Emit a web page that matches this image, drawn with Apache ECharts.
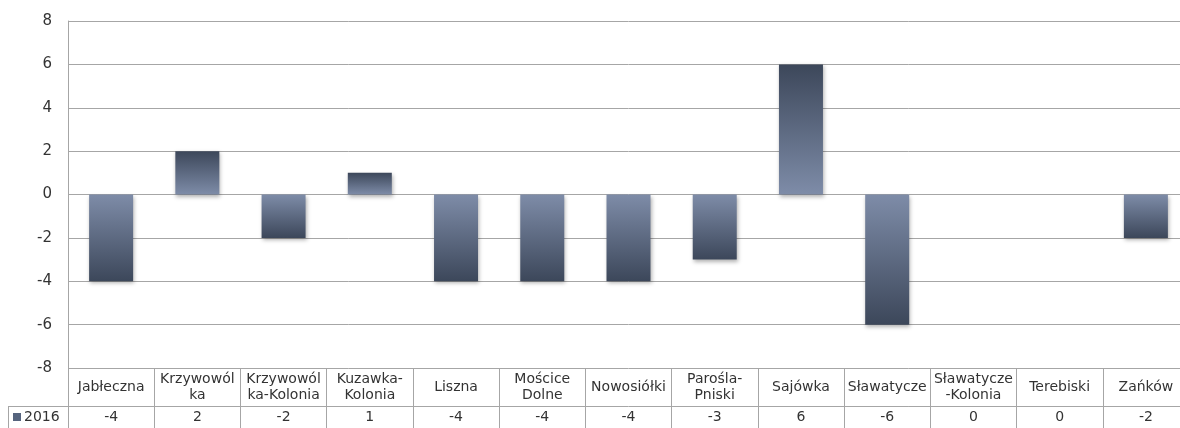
<!DOCTYPE html>
<html>
<head>
<meta charset="utf-8">
<script src="https://cdn.jsdelivr.net/npm/echarts@6/dist/echarts.min.js"></script>
<style>html,body{margin:0;padding:0;background:#fff;overflow:hidden;width:1180px;height:428px}#c{width:1189px;height:428px}</style>
</head>
<body>
<div id="c"></div>
<script>
var categories = ["Jabłeczna", "Krzywowól\nka", "Krzywowól\nka-Kolonia", "Kuzawka-\nKolonia", "Liszna", "Mościce\nDolne", "Nowosiółki", "Parośla-\nPniski", "Sajówka", "Sławatycze", "Sławatycze\n-Kolonia", "Terebiski", "Zańków"];
var values2016 = [-4, 2, -2, 1, -4, -4, -4, -3, 6, -6, 0, 0, -2];
var seriesName = "2016";
var yTicks = { min: -8, max: 8, interval: 2 };

var dark = '#3c475a', light = '#7e8ca8';
var gradUp = new echarts.graphic.LinearGradient(0, 0, 0, 1, [{offset: 0, color: dark}, {offset: 1, color: light}]);
var gradDown = new echarts.graphic.LinearGradient(0, 0, 0, 1, [{offset: 0, color: light}, {offset: 1, color: dark}]);
var lineCol = '#a6a6a6';
var txt = '#333333';
var font = 'DejaVu Sans';

var chart = echarts.init(document.getElementById('c'));
chart.setOption({
  animation: false,
  grid: { left: 68, top: 21, right: 0, height: 347 },
  legend: {
    left: 13, top: 410, itemWidth: 8, itemHeight: 8, itemGap: 4, padding: 0,
    icon: 'rect',
    data: [{ name: seriesName, itemStyle: { color: '#56647e' } }],
    textStyle: { fontSize: 14, color: txt, fontFamily: font, padding: [0, 0, 0, -2] }
  },
  xAxis: [{
    type: 'category', data: categories, position: 'bottom',
    axisLine: { show: false, onZero: false },
    axisTick: { show: true, length: 60, interval: 0, alignWithLabel: false, lineStyle: { color: lineCol } },
    axisLabel: { interval: 0, margin: 19, verticalAlign: 'middle', lineHeight: 16, fontSize: 14, color: txt, fontFamily: font }
  }, {
    type: 'category', data: categories, position: 'bottom', offset: 38,
    axisLine: { show: true, onZero: false, lineStyle: { color: lineCol } },
    axisTick: { show: false },
    axisLabel: { interval: 0, margin: 11, verticalAlign: 'middle', fontSize: 14, color: txt, fontFamily: font,
      formatter: function (v, i) { return String(values2016[i]); } }
  }],
  yAxis: {
    type: 'value', min: yTicks.min, max: yTicks.max, interval: yTicks.interval,
    axisLine: { show: true, lineStyle: { color: lineCol } },
    axisTick: { show: false },
    splitLine: { lineStyle: { color: lineCol } },
    axisLabel: { margin: 16, fontSize: 15, color: txt, fontFamily: font }
  },
  graphic: [
    { type: 'line', shape: { x1: 8, y1: 406.5, x2: 68, y2: 406.5 }, style: { stroke: lineCol, lineWidth: 1 } },
    { type: 'line', shape: { x1: 8.5, y1: 406, x2: 8.5, y2: 428 }, style: { stroke: lineCol, lineWidth: 1 } }
  ],
  series: [{
    name: seriesName, type: 'bar', xAxisIndex: 0, barWidth: 44,
    data: values2016,
    itemStyle: {
      color: function (p) { return p.value >= 0 ? gradUp : gradDown; },
      shadowBlur: 4, shadowColor: 'rgba(0,0,0,0.3)', shadowOffsetY: 2, shadowOffsetX: 1
    }
  }]
});
</script>
</body>
</html>
